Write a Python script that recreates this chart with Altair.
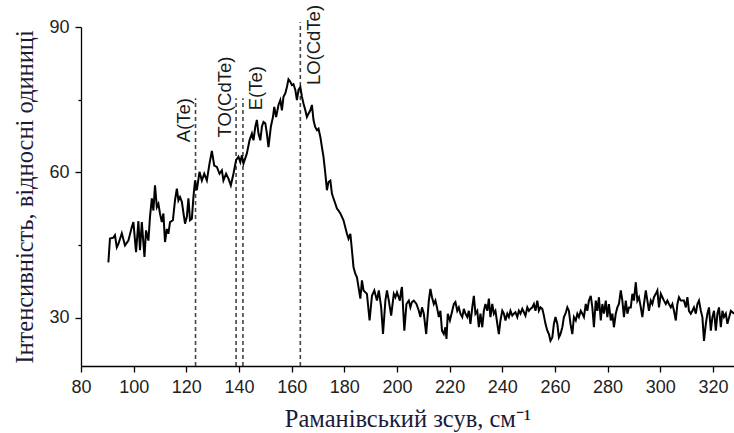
import altair as alt
import pandas as pd

# Raman spectrum (x: Raman shift, cm-1 ; y: intensity, arb. units)
shift = [
    90.4, 91.0, 92.3, 92.9, 93.6, 94.2, 95.5, 96.7, 98.0, 99.3, 99.9, 100.9, 101.8, 102.4, 103.1,
    104.1, 104.7, 105.6, 106.2, 106.9, 107.5, 108.1, 108.8, 109.4, 110.0, 110.7, 111.3, 111.9,
    112.6, 113.2, 113.8, 114.9, 115.7, 116.4, 117.0, 117.6, 118.3, 119.5, 120.2, 120.8, 121.4,
    122.1, 122.7, 123.3, 124.0, 125.0, 125.9, 126.8, 127.8, 128.8, 129.7, 130.6, 131.6, 132.6,
    133.5, 134.1, 135.1, 136.0, 136.9, 137.9, 138.9, 139.8, 140.5, 141.1, 141.7, 143.0, 144.0,
    144.9, 145.5, 146.2, 146.8, 147.4, 148.1, 148.7, 149.3, 150.0, 150.6, 151.2, 152.1, 152.9,
    153.4, 154.1, 155.0, 155.7, 156.3, 156.9, 157.6, 158.2, 158.8, 159.5, 160.1, 160.7, 161.4,
    162.0, 162.6, 163.3, 163.9, 164.5, 165.2, 165.8, 166.4, 167.1, 167.7, 168.3, 168.9, 169.6,
    170.2, 170.9, 171.5, 172.1, 172.8, 173.4, 174.0, 174.7, 175.3, 175.9, 176.6, 177.2, 177.8,
    178.5, 179.7, 181.0, 181.6, 182.3, 182.9, 183.5, 184.2, 184.8, 185.4, 186.1, 186.7, 187.3,
    188.6, 189.6, 190.5, 191.4, 192.4, 193.1, 194.0, 194.7, 195.6, 196.2, 196.9, 197.8, 198.8,
    199.4, 200.0, 201.1, 201.6, 201.9, 202.8, 203.6, 204.5, 205.1, 205.7, 206.4, 207.4, 208.3,
    208.9, 209.5, 210.2, 211.1, 212.1, 212.7, 213.3, 214.0, 214.6, 215.2, 215.9, 216.5, 217.1,
    217.8, 218.4, 218.8, 219.3, 220.1, 221.0, 221.6, 222.2, 222.9, 223.5, 224.1, 224.8, 225.4,
    226.0, 226.7, 227.3, 227.9, 228.6, 229.2, 229.8, 230.5, 231.1, 231.7, 232.4, 233.0, 233.6,
    234.3, 234.9, 235.5, 236.2, 236.8, 237.4, 238.3, 238.7, 239.3, 240.0, 240.6, 241.2, 241.9,
    242.5, 243.1, 243.8, 244.4, 245.0, 245.7, 246.3, 246.9, 247.6, 248.2, 248.8, 249.5, 250.1,
    250.7, 251.4, 252.0, 252.6, 253.3, 253.9, 254.5, 255.2, 255.8, 256.4, 257.1, 257.7, 258.3,
    259.0, 259.6, 260.2, 260.9, 261.5, 262.1, 262.8, 263.4, 264.0, 264.7, 265.3, 265.9, 266.6,
    267.2, 267.9, 268.5, 269.1, 269.8, 270.4, 271.0, 271.7, 272.3, 272.9, 273.6, 274.2, 274.8,
    275.5, 276.1, 276.7, 277.4, 278.0, 278.6, 279.3, 279.9, 280.5, 281.2, 281.8, 282.4, 283.1,
    283.7, 284.3, 285.0, 285.6, 286.2, 286.9, 287.5, 288.1, 288.8, 289.4, 290.0, 290.7, 291.3,
    291.9, 292.6, 293.2, 293.8, 294.5, 295.1, 295.7, 296.4, 297.0, 297.6, 298.3, 298.9, 299.5,
    300.2, 300.8, 301.4, 302.1, 302.7, 303.3, 304.0, 304.6, 305.2, 305.9, 306.5, 307.1, 307.8,
    308.4, 309.0, 309.7, 310.3, 310.9, 311.6, 312.2, 312.8, 313.5, 314.1, 314.7, 315.4, 316.0,
    316.6, 317.3, 317.9, 318.5, 319.2, 319.8, 320.4, 321.1, 321.7, 322.3, 323.0, 323.6, 324.2,
    324.9, 325.5, 326.8, 328.0,
]
intensity = [
    41.4, 46.3, 46.5, 47.0, 44.5, 45.2, 47.4, 44.9, 45.9, 48.7, 49.7, 43.5, 49.9, 43.9, 49.7,
    42.5, 48.0, 45.9, 50.8, 54.6, 52.1, 57.3, 52.8, 53.5, 51.5, 49.7, 51.5, 45.6,
    48.3, 47.3, 49.7, 50.1, 54.2, 56.6, 54.2, 54.9, 53.9, 49.4, 50.8, 54.6, 50.1,
    50.4, 54.9, 58.3, 56.3, 60.1, 58.3, 59.7, 58.3, 61.8, 64.4, 61.4, 61.1, 59.7,
    60.4, 58.3, 59.7, 58.7, 57.3, 59.7, 62.5, 63.2, 62.1, 63.5, 61.8, 63.9, 66.6,
    68.0, 66.6, 69.4, 70.8, 68.0, 66.6, 69.4, 70.4, 70.1, 68.0, 65.2, 69.4, 71.4,
    73.5, 71.4, 73.9, 74.9, 72.8, 75.6, 76.3, 77.6, 79.2, 78.7, 78.0, 78.2, 77.0,
    74.9, 77.0, 77.6, 75.6, 74.2, 72.8, 71.4, 72.1, 72.8, 73.9, 70.8, 69.4, 68.7,
    69.0, 67.3, 65.2, 63.2, 59.7, 56.3, 58.0, 58.3, 55.6, 54.6, 53.5, 52.5, 52.1,
    51.5, 50.1, 47.3, 46.3, 47.3, 43.9, 40.4, 39.0, 38.3, 36.3, 33.9, 37.7, 35.6,
    34.9, 29.4, 34.5, 35.6, 33.5, 35.6, 32.1, 26.6, 33.5, 35.6, 33.5, 30.4, 34.9,
    34.2, 35.2, 33.5, 35.6, 36.3, 27.3, 32.8, 33.5, 32.1, 33.2, 33.5, 32.8, 31.4,
    30.1, 32.1, 30.8, 26.6, 33.5, 35.9, 34.2, 32.8, 33.5, 32.1, 30.1, 31.4, 27.3,
    26.6, 28.0, 25.6, 30.8, 29.4, 31.4, 32.8, 33.2, 31.4, 32.1, 30.8, 30.1, 31.8,
    30.8, 30.1, 31.4, 28.7, 32.1, 34.5, 30.8, 31.4, 28.0, 30.8, 28.0, 31.4, 32.8,
    31.4, 33.9, 30.1, 32.8, 30.8, 31.4, 28.0, 26.6, 29.4, 31.4, 30.8, 29.4, 30.8,
    30.1, 31.4, 30.4, 30.8, 31.1, 30.1, 31.4, 30.8, 31.8, 31.1, 30.4, 32.1, 31.4,
    31.8, 32.1, 32.8, 31.4, 33.5, 31.4, 32.1, 31.8, 30.4, 28.7, 27.3, 26.6, 25.2,
    25.9, 28.7, 30.1, 28.7, 25.9, 26.6, 28.0, 30.1, 30.8, 32.1, 31.4, 28.7, 26.6,
    30.1, 29.4, 30.8, 30.1, 31.4, 30.8, 30.1, 32.8, 31.4, 33.5, 34.5, 32.1, 28.0,
    33.5, 31.4, 34.2, 29.4, 32.8, 30.8, 33.5, 30.1, 32.8, 29.4, 30.8, 28.0, 30.8,
    32.1, 32.8, 35.6, 33.5, 30.1, 33.5, 30.8, 32.1, 32.1, 34.9, 33.5, 37.3, 33.5,
    34.2, 32.1, 30.1, 32.8, 35.6, 33.5, 31.4, 33.5, 32.8, 34.2, 34.9, 35.6, 32.1,
    34.9, 34.2, 33.5, 32.8, 33.5, 32.8, 32.1, 32.8, 31.4, 29.4, 32.8, 34.2, 33.5,
    33.5, 33.5, 32.1, 34.2, 31.4, 30.8, 31.4, 32.1, 30.8, 32.8, 33.5, 31.4, 30.1,
    25.2, 28.7, 30.8, 32.1, 27.3, 30.1, 31.4, 27.3, 30.8, 32.1, 28.0, 31.4, 30.1,
    30.8, 28.7, 31.4, 30.8,
]

# Phonon mode markers
mode_names = ["A(Te)", "TO(CdTe)", "E(Te)", "LO(CdTe)"]
mode_pos = [123.5, 138.9, 141.5, 163.3]
mode_top = [75.3, 75.3, 75.3, 91.0]
mode_bottom = [20, 20, 20, 20]
label_x = [119.0, 134.8, 146.5, 168.6]
label_y = [66.2, 67.2, 72.8, 78.0]

x_ticks = list(range(80, 330, 10))
y_ticks = [30, 45, 60, 75, 90]

spec = pd.DataFrame({"shift": shift, "intensity": intensity})
modes = pd.DataFrame({"name": mode_names, "pos": mode_pos, "top": mode_top,
                      "bottom": mode_bottom, "lx": label_x, "ly": label_y})

title_color = "#1a1a38"
x_scale = alt.Scale(domain=[80, 328], nice=False, zero=False)
y_scale = alt.Scale(domain=[20, 90], nice=False, zero=False)

x_axis = alt.Axis(
    values=x_ticks,
    labelExpr="datum.value % 20 === 0 ? datum.label : ''",
    tickSize={"condition": {"test": "datum.value % 20 === 0", "value": 6}, "value": 3},
    title="Раманівський зсув, см⁻¹",
    grid=False,
    labelFlush=False,
)
y_axis = alt.Axis(
    values=y_ticks,
    labelExpr="datum.value % 30 === 0 ? datum.label : ''",
    tickSize={"condition": {"test": "datum.value % 30 === 0", "value": 6}, "value": 3},
    title="Інтенсивність, відносні одиниці",
    grid=False,
    labelFlush=False,
)

line = alt.Chart(spec).mark_line(color="#000000", strokeWidth=2, clip=True).encode(
    x=alt.X("shift:Q", scale=x_scale, axis=x_axis),
    y=alt.Y("intensity:Q", scale=y_scale, axis=y_axis),
)

rules = alt.Chart(modes).mark_rule(color="#444444", strokeWidth=1.6, strokeDash=[4, 3]).encode(
    x=alt.X("pos:Q", scale=x_scale),
    y=alt.Y("bottom:Q", scale=y_scale),
    y2="top:Q",
)

labels = alt.Chart(modes).mark_text(
    angle=270, align="left", baseline="middle", font="Liberation Sans",
    fontSize=18.5, color="#1a1a1a",
).encode(
    x=alt.X("lx:Q", scale=x_scale),
    y=alt.Y("ly:Q", scale=y_scale),
    text="name:N",
)

chart = alt.layer(rules, line, labels).properties(
    width=653, height=339,
    autosize=alt.AutoSizeParams(type="none"),
    padding={"left": 81, "top": 27, "right": 0, "bottom": 67},
    background="white",
).configure_view(stroke=None).configure_axis(
    domainColor="#000000", domainWidth=1.3, tickColor="#000000", tickWidth=1.3,
    labelFont="Liberation Sans", labelFontSize=18, labelColor="#222222",
    labelPadding=6,
    titleFont="Liberation Serif", titleFontSize=24.5, titleFontWeight="normal",
    titleColor=title_color,
).configure_axisX(titlePadding=11).configure_axisY(titlePadding=11)

chart.save("out.html", embed_options={"renderer": "svg", "actions": False})
